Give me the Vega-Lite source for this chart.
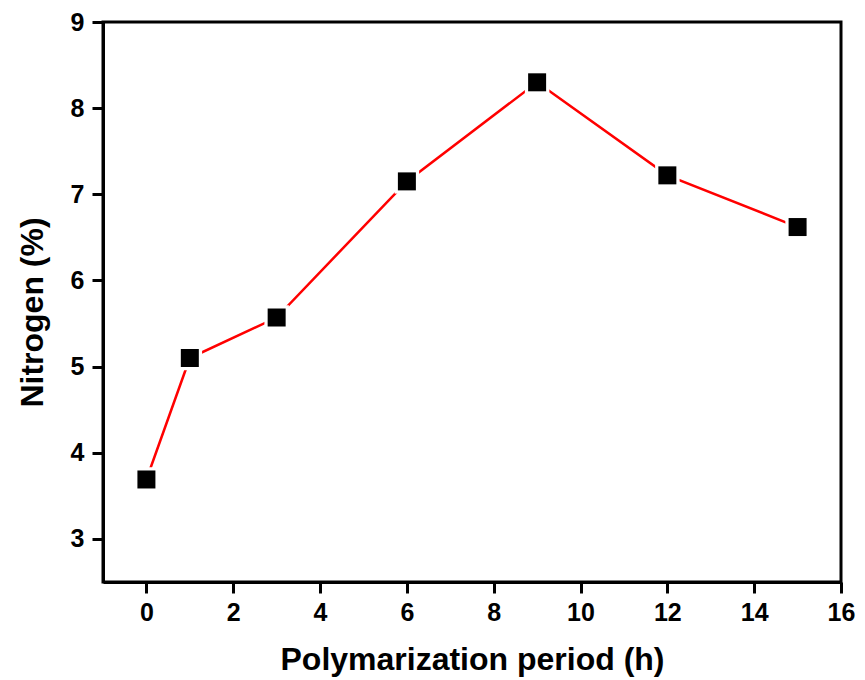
{
  "$schema": "https://vega.github.io/schema/vega-lite/v6.json",
  "width": 738,
  "height": 560,
  "autosize": "none",
  "padding": {"left": 103, "top": 22, "right": 24, "bottom": 98},
  "background": "white",
  "config": {
    "view": {"stroke": "black", "strokeWidth": 3},
    "font": "Liberation Sans",
    "axis": {
      "domainColor": "black",
      "domainWidth": 3,
      "tickColor": "black",
      "tickWidth": 3,
      "tickSize": 11,
      "grid": false,
      "labelFont": "Liberation Sans",
      "labelFontSize": 25,
      "labelFontWeight": "bold",
      "labelColor": "black",
      "titleFont": "Liberation Sans",
      "titleFontSize": 32,
      "titleFontWeight": "bold",
      "titleColor": "black"
    }
  },
  "data": {
    "values": [
      {"period": 0, "nitrogen": 3.69},
      {"period": 1, "nitrogen": 5.10},
      {"period": 3, "nitrogen": 5.57},
      {"period": 6, "nitrogen": 7.15},
      {"period": 9, "nitrogen": 8.30},
      {"period": 12, "nitrogen": 7.22},
      {"period": 15, "nitrogen": 6.62}
    ]
  },
  "encoding": {
    "x": {
      "field": "period",
      "type": "quantitative",
      "scale": {"domain": [-1, 16], "nice": false, "zero": false},
      "axis": {
        "title": "Polymarization period (h)",
        "values": [0, 2, 4, 6, 8, 10, 12, 14, 16],
        "labelPadding": 7,
        "titlePadding": 19,
        "labelFlush": false
      }
    },
    "y": {
      "field": "nitrogen",
      "type": "quantitative",
      "scale": {"domain": [2.5, 9], "nice": false, "zero": false},
      "axis": {
        "title": "Nitrogen (%)",
        "values": [3, 4, 5, 6, 7, 8, 9],
        "labelPadding": 8,
        "titlePadding": 21,
        "titleY": 290,
        "labelFlush": false
      }
    }
  },
  "layer": [
    {"mark": {"type": "line", "color": "#ff0000", "strokeWidth": 2.5}},
    {"mark": {"type": "point", "shape": "square", "filled": true, "color": "white", "size": 600, "opacity": 1}},
    {"mark": {"type": "point", "shape": "square", "filled": true, "color": "black", "size": 324, "opacity": 1}}
  ]
}
